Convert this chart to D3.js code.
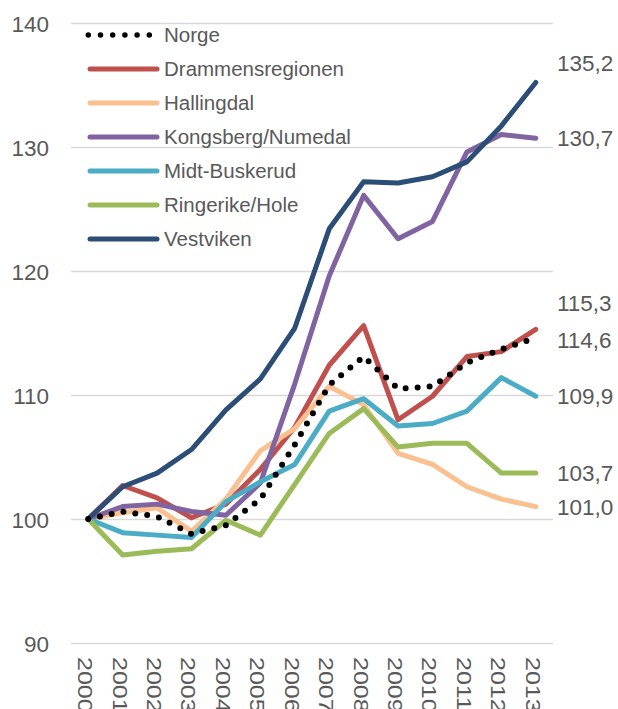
<!DOCTYPE html>
<html>
<head>
<meta charset="utf-8">
<script src="https://cdn.jsdelivr.net/npm/d3@7/dist/d3.min.js"></script>
<style>
  html, body { margin: 0; padding: 0; background: #fff; }
  svg { display: block; }
  text { font-family: "Liberation Sans", Arial, sans-serif; fill: #595959; }
</style>
</head>
<body>
<svg id="chart" width="618" height="709"></svg>
<script>
const years = ["2000","2001","2002","2003","2004","2005","2006","2007","2008","2009","2010","2011","2012","2013"];
const seriesNames = ["Norge","Drammensregionen","Hallingdal","Kongsberg/Numedal","Midt-Buskerud","Ringerike/Hole","Vestviken"];
const norge      = [100, 100.6, 100.2, 98.8, 99.5, 101.6, 106.0, 110.8, 113.1, 110.5, 110.7, 112.6, 113.7, 114.6];
const drammen    = [100, 102.7, 101.7, 100.1, 101.2, 104.0, 107.4, 112.4, 115.6, 108.0, 109.9, 113.1, 113.5, 115.3];
const halling    = [100, 100.5, 100.9, 99.0, 101.6, 105.5, 107.3, 110.7, 109.2, 105.3, 104.4, 102.6, 101.6, 101.0];
const kongsberg  = [100, 101.0, 101.2, 100.6, 100.3, 102.9, 110.9, 119.6, 126.1, 122.6, 124.0, 129.6, 131.0, 130.7];
const midt       = [100, 98.9, 98.7, 98.5, 101.4, 103.0, 104.4, 108.7, 109.7, 107.5, 107.7, 108.7, 111.4, 109.9];
const ringerike  = [100, 97.1, 97.4, 97.6, 99.9, 98.7, 102.8, 106.9, 108.9, 105.8, 106.1, 106.1, 103.7, 103.7];
const vestviken  = [100, 102.6, 103.7, 105.6, 108.8, 111.3, 115.4, 123.4, 127.2, 127.1, 127.6, 128.8, 131.7, 135.2];
const yTicks = [90, 100, 110, 120, 130, 140];
const endLabels = ["135,2","130,7","115,3","114,6","109,9","103,7","101,0"];
const endLabelSeries = ["Vestviken","Kongsberg/Numedal","Drammensregionen","Norge","Midt-Buskerud","Ringerike/Hole","Hallingdal"];

// styling / layout (not data)
const colors = {
  "Norge": "#000000",
  "Drammensregionen": "#C0504D",
  "Hallingdal": "#FAC090",
  "Kongsberg/Numedal": "#8064A2",
  "Midt-Buskerud": "#4BACC6",
  "Ringerike/Hole": "#9BBB59",
  "Vestviken": "#2C4D75"
};
const labelNudge = {"Vestviken": -20, "Drammensregionen": -26, "Norge": 2};

const values = {
  "Norge": norge, "Drammensregionen": drammen, "Hallingdal": halling,
  "Kongsberg/Numedal": kongsberg, "Midt-Buskerud": midt,
  "Ringerike/Hole": ringerike, "Vestviken": vestviken
};

const svg = d3.select("#chart");
const plotLeft = 71, plotRight = 553, plotTop = 23, plotBottom = 643;

const x = d3.scaleBand().domain(years).range([plotLeft, plotRight]).padding(0);
const xc = d => x(d) + x.bandwidth() / 2;
const y = d3.scaleLinear().domain([90, 140]).range([plotBottom, plotTop]);

// gridlines + y tick labels
const yAxis = d3.axisLeft(y).tickValues(yTicks).tickSizeInner(-(plotRight - plotLeft)).tickSizeOuter(0).tickPadding(22).tickFormat(d3.format("d"));
const gy = svg.append("g").attr("transform", `translate(${plotLeft},0)`).call(yAxis);
gy.select(".domain").remove();
gy.selectAll(".tick line").attr("stroke", "#D9D9D9").attr("stroke-width", 1.5);
gy.selectAll(".tick text").attr("fill", "#595959").style("font-size", "22.5px")
  .style("font-family", '"Liberation Sans", Arial, sans-serif').attr("dy", "0.36em");

// x labels rotated
const gx = svg.append("g");
gx.selectAll("g").data(years).join("g")
  .attr("transform", d => `translate(${xc(d) - 3},657) rotate(90) scale(1.25,1)`)
  .append("text")
  .attr("x", 0).attr("y", 0).attr("dy", "0.35em")
  .style("font-size", "20px")
  .text(d => d);

// lines
const line = d3.line().x((d, i) => xc(years[i])).y(d => y(d));
const drawOrder = ["Drammensregionen","Hallingdal","Kongsberg/Numedal","Midt-Buskerud","Ringerike/Hole","Vestviken","Norge"];
drawOrder.forEach(name => {
  const p = svg.append("path")
    .datum(values[name])
    .attr("d", line)
    .attr("fill", "none")
    .attr("stroke", colors[name])
    .attr("stroke-linecap", "round")
    .attr("stroke-linejoin", "round");
  if (name === "Norge") {
    p.attr("stroke-width", 6).attr("stroke-dasharray", "0 12");
  } else {
    p.attr("stroke-width", 5);
  }
});

// legend
const legend = svg.append("g");
seriesNames.forEach((name, i) => {
  const cy = 35 + i * 34;
  const g = legend.append("g");
  if (name === "Norge") {
    g.append("line").attr("x1", 88.3).attr("x2", 155).attr("y1", cy).attr("y2", cy)
      .attr("stroke", colors[name]).attr("stroke-width", 5.5)
      .attr("stroke-linecap", "round").attr("stroke-dasharray", "0 12.2");
  } else {
    g.append("line").attr("x1", 90).attr("x2", 157).attr("y1", cy).attr("y2", cy)
      .attr("stroke", colors[name]).attr("stroke-width", 5)
      .attr("stroke-linecap", "round");
  }
  g.append("text").attr("x", 164).attr("y", cy).attr("dy", "0.36em")
    .style("font-size", "20.5px").text(name);
});

// end labels
svg.append("g").selectAll("text").data(endLabels).join("text")
  .attr("x", 557)
  .attr("y", (d, i) => {
    const s = endLabelSeries[i];
    const v = values[s][values[s].length - 1];
    return y(v) + (labelNudge[s] || 0);
  })
  .attr("dy", "0.36em")
  .style("font-size", "22.5px")
  .text(d => d);
</script>
</body>
</html>
